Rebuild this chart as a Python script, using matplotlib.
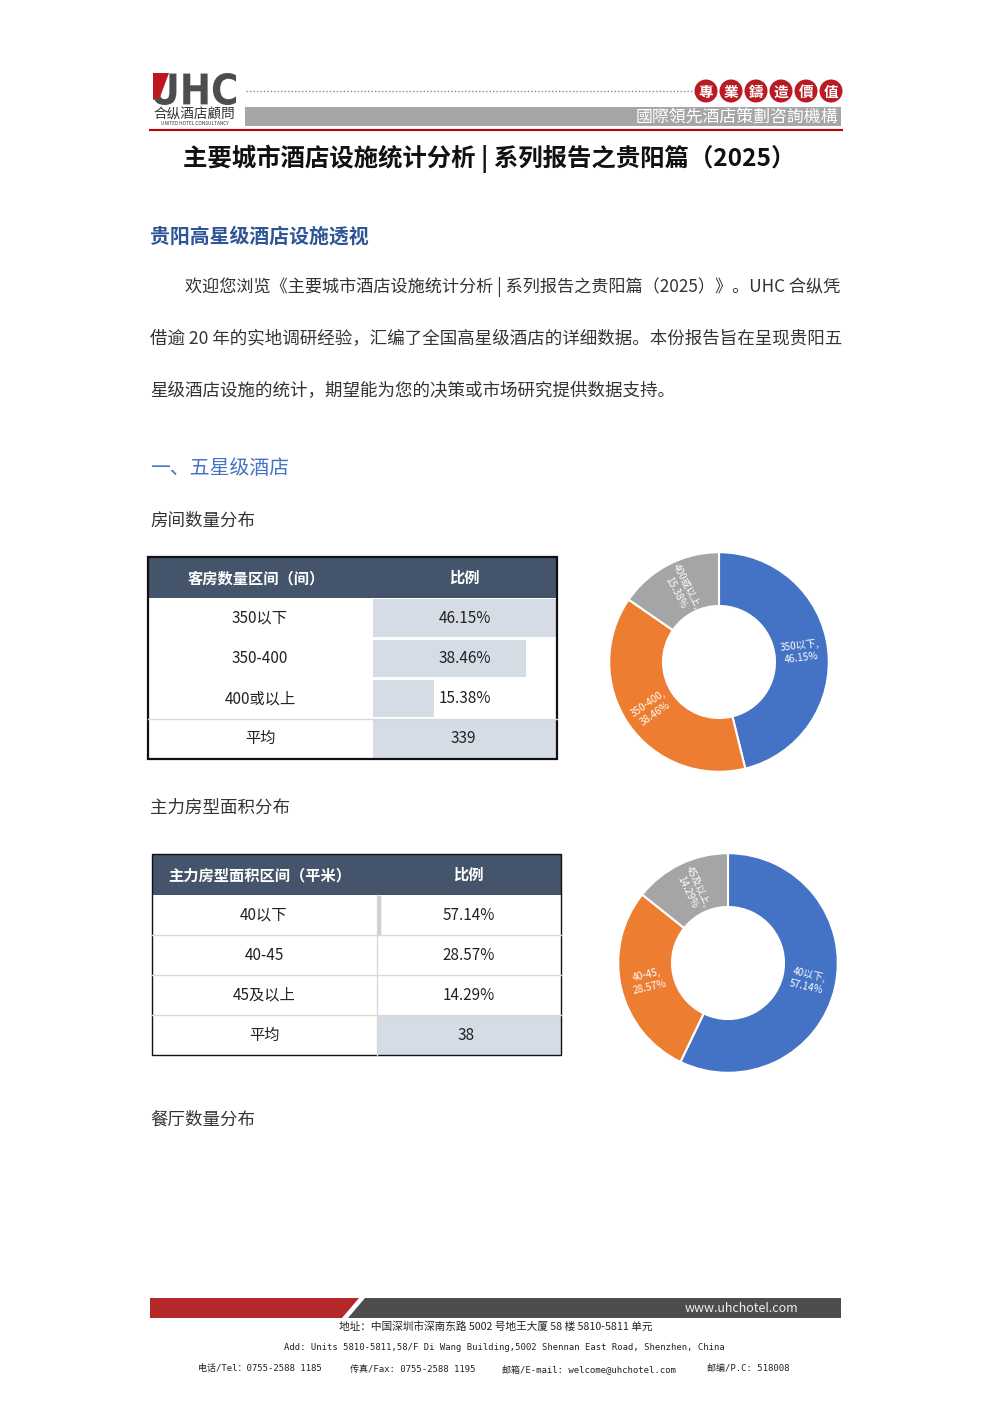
import math
import matplotlib
matplotlib.use("Agg")
import matplotlib.pyplot as plt
from matplotlib.patches import Rectangle, Polygon, Circle, PathPatch
from matplotlib.textpath import TextPath
from matplotlib.font_manager import FontProperties
from matplotlib.transforms import Affine2D

plt.rcParams['font.family'] = ['Noto Sans CJK SC', 'DejaVu Sans']

# ---------------- data ----------------
room_categories = ['350以下', '350-400', '400或以上']
room_shares = [46.15, 38.46, 15.38]
room_avg = 339
area_categories = ['40以下', '40-45', '45及以上']
area_shares = [57.14, 28.57, 14.29]
area_avg = 38
donut_colors = ['#4472c4', '#ed7d31', '#a5a5a5']

W, H = 992, 1403
fig = plt.figure(figsize=(W / 100, H / 100), dpi=100)
fig.patch.set_facecolor('white')


def frac(x0, y0, x1, y1):
    return [x0 / W, 1 - y1 / H, (x1 - x0) / W, (y1 - y0) / H]


ax = fig.add_axes([0, 0, 1, 1], zorder=2)
ax.set_xlim(0, W)
ax.set_ylim(H, 0)
ax.axis('off')
ax.patch.set_alpha(0)

# ---------------- page header ----------------
# logo letters fitted into their box
tp = TextPath((0, 0), 'UHC', size=40, prop=FontProperties(family='DejaVu Sans', weight='bold'))
ext = tp.get_extents()
bx0, by0, bx1, by1 = 153, 73, 236, 105
sx = (bx1 - bx0) / ext.width
sy = (by1 - by0) / ext.height
tr = Affine2D().translate(-ext.x0, -ext.y0).scale(sx, -sy).translate(bx0, by1) + ax.transData
ax.add_patch(PathPatch(tp, facecolor='#4d4d4d', edgecolor='none', transform=tr))
ax.add_patch(Polygon([(153, 73), (169, 73), (160, 97), (153, 100)], closed=True,
                     facecolor='#c0161e', edgecolor='none', zorder=3))
ax.text(194.5, 115, '合纵酒店顧問', fontsize=9.8, color='#333333', ha='center', va='center')
ax.text(194.5, 123.5, 'UNITED HOTEL CONSULTANCY', fontsize=3.4, color='#333333',
        ha='center', va='center')
ax.plot([246, 692], [91, 91], color='#888888', lw=1, ls=(0, (1, 1.5)))
for i, ch in enumerate('專業鑄造價值'):
    cx = 706 + i * 25
    ax.add_patch(Circle((cx, 91), 11.5, facecolor='#b81c22', edgecolor='none'))
    ax.text(cx, 91.5, ch, fontsize=10.5, fontweight='bold', color='white',
            ha='center', va='center')
ax.add_patch(Rectangle((245, 107), 596, 19, facecolor='#a6a6a6', edgecolor='none'))
ax.text(838, 116.5, '國際領先酒店策劃咨詢機構', fontsize=12.2, color='white',
        ha='right', va='center')
ax.plot([150, 842], [129.5, 129.5], color='#c00000', lw=1.5)

# ---------------- title & text ----------------
ax.text(489, 159, '主要城市酒店设施统计分析 | 系列报告之贵阳篇（2025）', fontsize=17.6,
        fontweight='bold', color='#111111', ha='center', va='center')
ax.text(150, 236, '贵阳高星级酒店设施透视', fontsize=14.3, fontweight='bold',
        color='#2f5597', ha='left', va='center')
para = ['欢迎您浏览《主要城市酒店设施统计分析 | 系列报告之贵阳篇（2025）》。UHC 合纵凭',
        '借逾 20 年的实地调研经验，汇编了全国高星级酒店的详细数据。本份报告旨在呈现贵阳五',
        '星级酒店设施的统计，期望能为您的决策或市场研究提供数据支持。']
para_x = [185, 150, 150]
para_y = [287, 339, 391]
para_fs = [12.35, 12.6, 12.6]
for t, x, y, fs in zip(para, para_x, para_y, para_fs):
    ax.text(x, y, t, fontsize=fs, color='#333333', ha='left', va='center')

ax.text(150, 469, '一、五星级酒店', fontsize=14.3, color='#4472c4', ha='left', va='center')
ax.text(150, 521, '房间数量分布', fontsize=12.6, color='#333333', ha='left', va='center')
ax.text(150, 808, '主力房型面积分布', fontsize=12.6, color='#333333', ha='left', va='center')
ax.text(150, 1120, '餐厅数量分布', fontsize=12.6, color='#333333', ha='left', va='center')

FS = 11
# ---------------- table 1 ----------------
t1x0, t1x1, t1split, t1top, t1hdr, t1rowh = 148, 557, 373, 557, 598, 40.25
ax.add_patch(Rectangle((t1x0, t1top), t1x1 - t1x0, t1hdr - t1top, facecolor='#44546a',
                       edgecolor='none'))
ax.text(256, 578, '客房数量区间（间）', fontsize=FS, fontweight='bold', color='white',
        ha='center', va='center')
ax.text(464, 578, '比例', fontsize=FS, fontweight='bold', color='white',
        ha='center', va='center')
axb = fig.add_axes(frac(t1split, t1hdr, t1x1 - 1, t1hdr + 3 * t1rowh), zorder=1)
axb.barh(range(len(room_shares)), room_shares, height=0.93, color='#d6dce5')
axb.set_xlim(0, max(room_shares))
axb.set_ylim(len(room_shares) - 0.5, -0.5)
axb.axis('off')
for i, (c, v) in enumerate(zip(room_categories, room_shares)):
    y = t1hdr + (i + 0.5) * t1rowh
    ax.text(260, y, c, fontsize=FS, color='#222222', ha='center', va='center')
    ax.text(465, y, f'{v:.2f}%', fontsize=FS, color='#222222', ha='center', va='center')
yavg = t1hdr + 3 * t1rowh
ax.add_patch(Rectangle((t1split, yavg), t1x1 - 1 - t1split, t1rowh - 1,
                       facecolor='#d6dce5', edgecolor='none'))
ax.plot([t1x0, t1x1], [yavg, yavg], color='#d9d9d9', lw=1)
ax.text(260, yavg + t1rowh / 2, '平均', fontsize=FS, color='#222222', ha='center', va='center')
ax.text(463, yavg + t1rowh / 2, f'{room_avg}', fontsize=FS, color='#222222',
        ha='center', va='center')
ax.add_patch(Rectangle((t1x0, t1top), t1x1 - t1x0, yavg + t1rowh - t1top, facecolor='none',
                       edgecolor='#111111', lw=1.6))

# ---------------- table 2 ----------------
t2x0, t2x1, t2split, t2top, t2hdr, t2rowh = 152, 561, 377, 854, 895, 40
ax.add_patch(Rectangle((t2x0, t2top), t2x1 - t2x0, t2hdr - t2top, facecolor='#44546a',
                       edgecolor='none'))
ax.text(260, 875, '主力房型面积区间（平米）', fontsize=FS, fontweight='bold', color='white',
        ha='center', va='center')
ax.text(468, 875, '比例', fontsize=FS, fontweight='bold', color='white',
        ha='center', va='center')
yavg2 = t2hdr + 3 * t2rowh
ax.add_patch(Rectangle((t2split, yavg2 + 1), t2x1 - t2split, t2rowh - 1,
                       facecolor='#d6dce5', edgecolor='none'))
for i in range(1, 4):
    yy = t2hdr + i * t2rowh
    ax.plot([t2x0, t2x1], [yy, yy], color='#d9d9d9', lw=1)
ax.plot([t2split, t2split], [t2hdr, yavg2 + t2rowh], color='#d9d9d9', lw=1)
ax.plot([t2split + 2, t2split + 2], [t2hdr + 2, t2hdr + t2rowh - 2], color='#cfcfcf', lw=2.5)
for i, (c, v) in enumerate(zip(area_categories, area_shares)):
    y = t2hdr + (i + 0.5) * t2rowh
    ax.text(264, y, c, fontsize=FS, color='#222222', ha='center', va='center')
    ax.text(469, y, f'{v:.2f}%', fontsize=FS, color='#222222', ha='center', va='center')
ax.text(264, yavg2 + t2rowh / 2, '平均', fontsize=FS, color='#222222', ha='center', va='center')
ax.text(466, yavg2 + t2rowh / 2, f'{area_avg}', fontsize=FS, color='#222222',
        ha='center', va='center')
ax.add_patch(Rectangle((t2x0, t2top), t2x1 - t2x0, yavg2 + t2rowh - t2top, facecolor='none',
                       edgecolor='#111111', lw=1.0))


# ---------------- donuts ----------------
def donut(box, values, names):
    a = fig.add_axes(frac(*box), zorder=1)
    wedges, _ = a.pie(values, colors=donut_colors, startangle=90, counterclock=False,
                      radius=1, wedgeprops=dict(width=0.49, edgecolor='white', linewidth=1.5))
    a.set_xlim(-1.02, 1.02)
    a.set_ylim(-1.02, 1.02)
    a.set_aspect('equal')
    a.axis('off')
    for w, n, v in zip(wedges, names, values):
        mid = (w.theta1 + w.theta2) / 2
        r = 0.745
        x = r * math.cos(math.radians(mid))
        y = r * math.sin(math.radians(mid))
        rot = mid % 360
        if rot > 180:
            rot -= 360
        if rot > 90:
            rot -= 180
        elif rot < -90:
            rot += 180
        a.text(x, y, f'{n},\n{v:.2f}%', fontsize=7.2, color='white', ha='center',
               va='center', rotation=rot, rotation_mode='anchor', linespacing=1.3)


donut((607, 550, 831, 774), room_shares, room_categories)
donut((616, 851, 840, 1075), area_shares, area_categories)

# ---------------- footer ----------------
ax.add_patch(Polygon([(150, 1298), (359, 1298), (342, 1318), (150, 1318)], closed=True,
                     facecolor='#b5282a', edgecolor='none'))
ax.add_patch(Polygon([(365, 1298), (841, 1298), (841, 1318), (348, 1318)], closed=True,
                     facecolor='#4f4c4c', edgecolor='none'))
ax.text(741, 1308, 'www.uhchotel.com', fontsize=9, color='#f0f0f0', ha='center', va='center')
ax.text(496, 1327, '地址：中国深圳市深南东路 5002 号地王大厦 58 楼 5810-5811 单元', fontsize=7.7,
        color='#222222', ha='center', va='center')
ax.text(504, 1348, 'Add: Units 5810-5811,58/F Di Wang Building,5002 Shennan East Road, Shenzhen, China',
        fontsize=6.4, color='#222222', ha='center', va='center',
        family=['DejaVu Sans Mono', 'Noto Sans CJK SC'])
tel_parts = ['电话/Tel：0755-2588 1185', '传真/Fax: 0755-2588 1195',
             '邮箱/E-mail: welcome@uhchotel.com', '邮编/P.C: 518008']
tel_x = [198, 350, 502, 707]
for t, x in zip(tel_parts, tel_x):
    ax.text(x, 1369, t, fontsize=6.5, color='#222222', ha='left', va='center',
            family=['DejaVu Sans Mono', 'Noto Sans CJK SC'])

fig.savefig('out.png', dpi=100, facecolor='white')
